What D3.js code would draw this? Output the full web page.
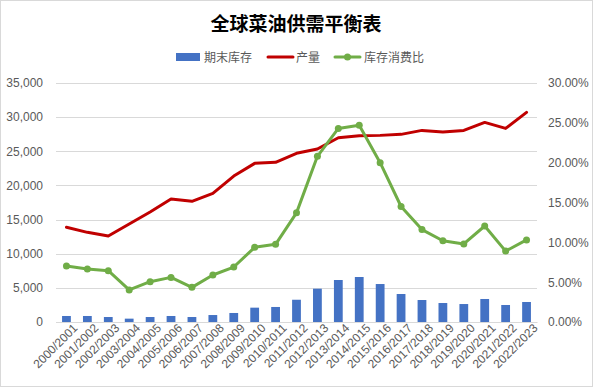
<!DOCTYPE html>
<html>
<head>
<meta charset="utf-8">
<script src="https://cdn.jsdelivr.net/npm/d3@7"></script>
<style>
  body { margin: 0; background: #fff; }
  svg { font-family: "Microsoft YaHei", "Noto Sans CJK SC", "DejaVu Sans", sans-serif; }
</style>
</head>
<body>
<div id="chart"></div>
<script>
// data
const seasons = ["2000/2001","2001/2002","2002/2003","2003/2004","2004/2005","2005/2006",
  "2006/2007","2007/2008","2008/2009","2009/2010","2010/2011","2011/2012","2012/2013",
  "2013/2014","2014/2015","2015/2016","2016/2017","2017/2018","2018/2019","2019/2020",
  "2020/2021","2021/2022","2022/2023"];
const endStock = [880, 880, 730, 490, 730, 880, 730, 1020, 1320, 2100, 2200, 3260, 4880,
  6150, 6590, 5560, 4100, 3220, 2780, 2630, 3370, 2490, 2930];
const production = [13870, 13130, 12590, 14350, 16100, 18000, 17670, 18840, 21370, 23230,
  23380, 24700, 25330, 26980, 27280, 27330, 27480, 28060, 27820, 28060, 29230, 28350, 30700];
const stockRatio = [0.0703, 0.0665, 0.0644, 0.0402, 0.0506, 0.056, 0.0435, 0.059, 0.069,
  0.0937, 0.0975, 0.137, 0.208, 0.243, 0.247, 0.200, 0.145, 0.116, 0.102, 0.098, 0.1205,
  0.089, 0.103];
const leftTicks = [0, 5000, 10000, 15000, 20000, 25000, 30000, 35000];
const rightTicks = [0, 0.05, 0.10, 0.15, 0.20, 0.25, 0.30];

const W = 593, H = 387;
const margin = {top: 83, left: 56, right: 56, bottom: 65};
const width = W - margin.left - margin.right,
      height = H - margin.top - margin.bottom;

const svg = d3.select("#chart").append("svg")
  .attr("width", W).attr("height", H);

svg.append("rect")
  .attr("x", 0.5).attr("y", 0.5)
  .attr("width", W - 1).attr("height", H - 1)
  .attr("fill", "#fff").attr("stroke", "#d9d9d9");

svg.append("text")
  .attr("x", 296).attr("y", 31)
  .attr("text-anchor", "middle")
  .attr("font-size", 19).attr("font-weight", "bold")
  .attr("fill", "#000")
  .text("全球菜油供需平衡表");

const g = svg.append("g")
  .attr("transform", "translate(" + margin.left + "," + margin.top + ")");

const x = d3.scaleBand().domain(seasons).range([0, width]).paddingInner(0.58).paddingOuter(0.29);
const xPt = d => x(d) + x.bandwidth() / 2;
const yL = d3.scaleLinear().domain([0, 35000]).range([height, 0]);
const yR = d3.scaleLinear().domain([0, 0.30]).range([height, 0]);

// gridlines
g.selectAll(".grid").data(leftTicks).enter().append("line")
  .attr("x1", 0).attr("x2", width)
  .attr("y1", d => Math.round(yL(d)) + 0.5).attr("y2", d => Math.round(yL(d)) + 0.5)
  .attr("stroke", "#d9d9d9").attr("stroke-width", 1);

// left axis
const axL = g.append("g")
  .call(d3.axisLeft(yL).tickValues(leftTicks).tickFormat(d3.format(",")).tickSize(0).tickPadding(13));
axL.select(".domain").remove();
axL.selectAll("text").attr("font-size", 12).attr("fill", "#595959")
  .attr("font-family", "Liberation Sans, DejaVu Sans, sans-serif");

// right axis
const axR = g.append("g")
  .attr("transform", "translate(" + width + ",0)")
  .call(d3.axisRight(yR).tickValues(rightTicks).tickFormat(d3.format(".2%")).tickSize(0).tickPadding(11));
axR.select(".domain").remove();
axR.selectAll("text").attr("font-size", 12).attr("fill", "#595959")
  .attr("font-family", "Liberation Sans, DejaVu Sans, sans-serif");

// bars
g.selectAll(".bar").data(seasons).enter().append("rect")
  .attr("class", "bar")
  .attr("x", d => x(d))
  .attr("y", (d, i) => yL(endStock[i]))
  .attr("width", x.bandwidth())
  .attr("height", (d, i) => height - yL(endStock[i]))
  .attr("fill", "#4472c4");

// x axis
const axB = g.append("g")
  .attr("transform", "translate(0," + height + ")")
  .call(d3.axisBottom(x).tickSize(0).tickPadding(6));
axB.select(".domain").attr("stroke", "#d9d9d9");
axB.selectAll("text")
  .attr("font-size", 12).attr("fill", "#595959")
  .attr("font-family", "Liberation Sans, DejaVu Sans, sans-serif")
  .style("text-anchor", "end")
  .attr("dx", "0.3em").attr("dy", "0.6em")
  .attr("transform", "rotate(-45)");

// production line
const lineL = d3.line().x((d, i) => xPt(seasons[i])).y(d => yL(d));
g.append("path").datum(production)
  .attr("d", lineL)
  .attr("fill", "none").attr("stroke", "#c00000")
  .attr("stroke-width", 3).attr("stroke-linejoin", "round").attr("stroke-linecap", "round");

// stock-to-use ratio line
const lineR = d3.line().x((d, i) => xPt(seasons[i])).y(d => yR(d));
g.append("path").datum(stockRatio)
  .attr("d", lineR)
  .attr("fill", "none").attr("stroke", "#70ad47")
  .attr("stroke-width", 3).attr("stroke-linejoin", "round").attr("stroke-linecap", "round");
g.selectAll(".dot").data(stockRatio).enter().append("circle")
  .attr("cx", (d, i) => xPt(seasons[i]))
  .attr("cy", d => yR(d))
  .attr("r", 3.5)
  .attr("fill", "#70ad47");

// legend
const legend = svg.append("g").attr("font-size", 12).attr("fill", "#595959");
legend.append("rect").attr("x", 176).attr("y", 53).attr("width", 24).attr("height", 8).attr("fill", "#4472c4");
legend.append("text").attr("x", 204).attr("y", 62).text("期末库存");
legend.append("line").attr("x1", 268).attr("x2", 293).attr("y1", 57).attr("y2", 57)
  .attr("stroke", "#c00000").attr("stroke-width", 3).attr("stroke-linecap", "round");
legend.append("text").attr("x", 296).attr("y", 62).text("产量");
legend.append("line").attr("x1", 335).attr("x2", 360).attr("y1", 57).attr("y2", 57)
  .attr("stroke", "#70ad47").attr("stroke-width", 3).attr("stroke-linecap", "round");
legend.append("circle").attr("cx", 347.5).attr("cy", 57).attr("r", 3.5).attr("fill", "#70ad47");
legend.append("text").attr("x", 364).attr("y", 62).text("库存消费比");
</script>
</body>
</html>
